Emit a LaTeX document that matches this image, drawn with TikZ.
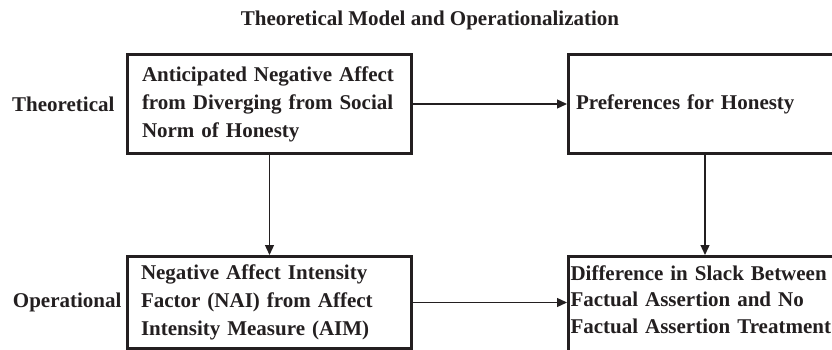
\documentclass[tikz,border=0pt]{standalone}
\usepackage{fontspec}
\setmainfont{Liberation Serif}
\usepackage{tikz}
\usetikzlibrary{arrows.meta, positioning, calc}
\definecolor{inkblack}{RGB}{35,31,32}
\tikzset{
    block/.style={rectangle, draw=inkblack, line width=3pt, text=inkblack,
                  align=left, font=\bfseries\fontsize{21}{28}\selectfont},
    rowlabel/.style={text=inkblack, font=\bfseries\fontsize{21}{28}\selectfont},
    arrow/.style={-{Triangle[length=10pt, width=9pt]}, line width=1.3pt, color=inkblack}
}
\begin{document}
\begin{tikzpicture}[x=1pt, y=-1pt]
    \useasboundingbox (0,0) rectangle (832,350);
    \clip (0,0) rectangle (832,350);

    \node[rowlabel, anchor=base] (title) at (430,26) {Theoretical Model and Operationalization};

    \node[block, minimum width=284pt, minimum height=99pt, text width=255pt, inner xsep=14.5pt] (anticip) at (269.5,104)
        {Anticipated Negative Affect\\from Diverging from Social\\Norm of Honesty};
    \node[block, below=100pt of anticip, minimum width=284pt, minimum height=92pt, text width=257pt, inner xsep=13.5pt] (nai)
        {Negative Affect Intensity\\Factor (NAI) from Affect\\Intensity Measure (AIM)};
    \node[block, right=154pt of anticip, minimum width=273pt, minimum height=98pt, text width=258pt, inner xsep=7.5pt] (pref)
        {Preferences for Honesty};
    \node[block, below=100.5pt of pref, minimum width=273pt, text width=269pt, inner xsep=2pt, inner ysep=9pt,
          text depth=95pt, font=\bfseries\fontsize{21}{26.5}\selectfont] (diff)
        {Difference in Slack Between\\Factual Assertion and No\\Factual Assertion Treatment};

    \node[rowlabel, left=8pt of anticip] (theolbl) {Theoretical};
    \node[rowlabel, left=1pt of nai] (opslbl) {Operational};

    \draw[arrow] (anticip) -- (pref);
    \draw[arrow] (anticip) -- (nai);
    \draw[arrow] (pref) -- (diff);
    \draw[arrow] (nai.east) -- (nai.east -| diff.west);
\end{tikzpicture}
\end{document}
